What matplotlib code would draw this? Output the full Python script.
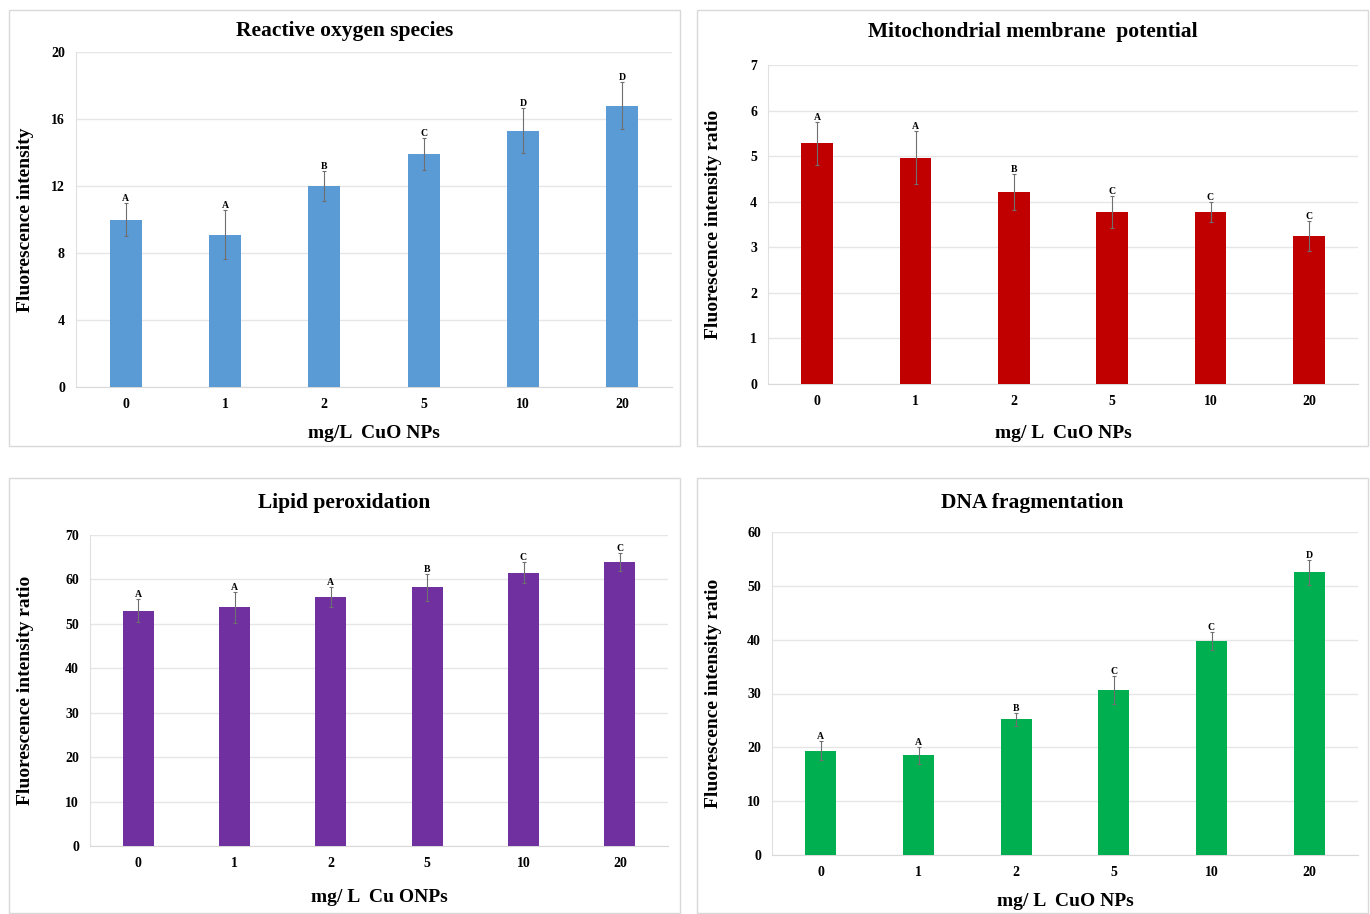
import matplotlib
matplotlib.use("Agg")
import matplotlib.pyplot as plt
from matplotlib.patches import Rectangle

plt.rcParams['font.family'] = ['Liberation Serif', 'DejaVu Serif']
plt.rcParams['font.weight'] = 'bold'

doses = ['0', '1', '2', '5', '10', '20']

ros = [10.0, 9.1, 12.0, 13.9, 15.3, 16.8]
ros_err = [1.0, 1.45, 0.9, 0.95, 1.35, 1.4]
ros_sig = ['A', 'A', 'B', 'C', 'D', 'D']

mmp = [5.28, 4.97, 4.21, 3.78, 3.78, 3.24]
mmp_err = [0.48, 0.58, 0.40, 0.35, 0.22, 0.33]
mmp_sig = ['A', 'A', 'B', 'C', 'C', 'C']

lpo = [53.0, 53.7, 56.1, 58.2, 61.5, 63.9]
lpo_err = [2.6, 3.5, 2.3, 3.0, 2.4, 2.0]
lpo_sig = ['A', 'A', 'A', 'B', 'C', 'C']

dna = [19.4, 18.5, 25.2, 30.6, 39.8, 52.5]
dna_err = [1.8, 1.6, 1.2, 2.6, 1.7, 2.3]
dna_sig = ['A', 'A', 'B', 'C', 'C', 'D']

W, H = 1370, 914
fig = plt.figure(figsize=(W / 100, H / 100), dpi=100)

def px_axes(x0, x1, ytop, ybot):
    return fig.add_axes([x0 / W, 1 - ybot / H, (x1 - x0) / W, (ybot - ytop) / H])

def frame(x0, x1, ytop, ybot):
    fig.patches.append(Rectangle((x0 / W, 1 - ybot / H), (x1 - x0) / W, (ybot - ytop) / H,
                                 transform=fig.transFigure, fill=False,
                                 edgecolor='#d9d9d9', lw=1.0))

def panel(box, ax_box, vals, errs, sig, color, title, ylabel, xlabel, ymax, step,
          title_y, xlabel_y, ylabel_x):
    frame(*box)
    ax = px_axes(*ax_box)
    x = range(len(doses))
    ax.bar(x, vals, width=0.32, color=color, zorder=3)
    ax.errorbar(x, vals, yerr=errs, fmt='none', ecolor='#6f6f6f', elinewidth=0.8,
                capsize=1.5, capthick=0.8, zorder=4)
    for i, (v, e, s) in enumerate(zip(vals, errs, sig)):
        ax.text(i, v + e, s, ha='center', va='bottom', fontsize=7, fontweight='bold')
    ax.set_xlim(-0.5, len(doses) - 0.5)
    ax.set_ylim(0, ymax)
    ax.set_yticks([step * k for k in range(int(round(ymax / step)) + 1)])
    ax.set_xticks(list(x))
    ax.set_xticklabels(doses)
    ax.tick_params(length=0, labelsize=10, pad=8)
    ax.yaxis.grid(True, color='#e6e6e6', lw=1.0, zorder=0)
    for sp in ['top', 'right']:
        ax.spines[sp].set_visible(False)
    ax.spines['left'].set_color('#e0e0e0')
    ax.spines['bottom'].set_color('#d9d9d9')
    x0, x1, ytop, ybot = box
    fig.text((x0 + x1) / 2 / W, 1 - title_y / H, title, ha='center', va='center',
             fontsize=15.5, fontweight='bold')
    fig.text(((ax_box[0] + ax_box[1]) / 2) / W, 1 - xlabel_y / H, xlabel, ha='center',
             va='center', fontsize=14, fontweight='bold')
    fig.text(ylabel_x / W, 1 - ((ax_box[2] + ax_box[3]) / 2) / H, ylabel, ha='center',
             va='center', rotation=90, fontsize=14, fontweight='bold')
    return ax

panel((9, 680, 10, 446), (76, 672, 52, 387), ros, ros_err, ros_sig, '#5b9bd5',
      'Reactive oxygen species', 'Fluorescence intensity', 'mg/L  CuO NPs', 20, 4,
      31, 434, 26)
panel((697, 1368, 10, 446), (768, 1358, 65, 384), mmp, mmp_err, mmp_sig, '#c00000',
      'Mitochondrial membrane  potential', 'Fluorescence intensity ratio', 'mg/ L  CuO NPs', 7, 1,
      32, 434, 714)
panel((9, 680, 478, 913), (90, 668, 535, 846), lpo, lpo_err, lpo_sig, '#7030a0',
      'Lipid peroxidation', 'Fluorescence intensity ratio', 'mg/ L  Cu ONPs', 70, 10,
      503, 898, 26)
panel((697, 1368, 478, 913), (772, 1358, 532, 855), dna, dna_err, dna_sig, '#00b050',
      'DNA fragmentation', 'Fluorescence intensity ratio', 'mg/ L  CuO NPs', 60, 10,
      503, 901, 714)

fig.savefig('out.png', dpi=100)
